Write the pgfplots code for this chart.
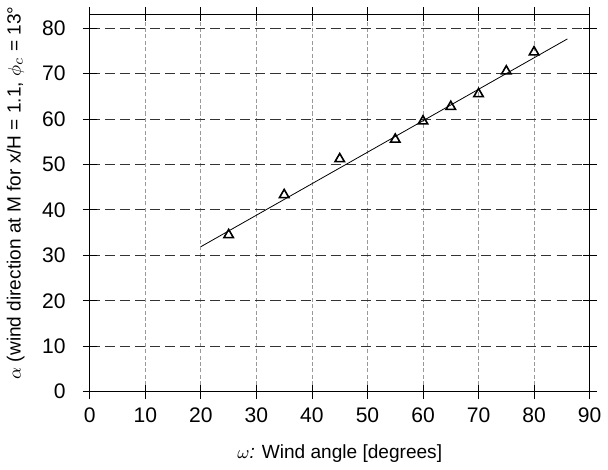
\documentclass[border=0pt]{standalone}
\usepackage{fontspec}
\setmainfont{Liberation Sans}
\usepackage{pgfplots}
\pgfplotsset{compat=1.18}

\begin{document}
\begin{tikzpicture}
\begin{axis}[
    width=249pt, height=188pt,
    scale only axis,
    xmin=0, xmax=90,
    ymin=0, ymax=83,
    xtick={0,10,...,90},
    ytick={0,10,...,80},
    tick align=center,
    major tick length=7pt,
    tick style={black, thin},
    axis line style={black, thin},
    xmajorgrids, ymajorgrids,
    x grid style={gray!80, dash pattern=on 2pt off 1.2pt},
    y grid style={black!80, dash pattern=on 5pt off 2.5pt},
    /pgf/number format/assume math mode=true,
    tick label style={font=\fontsize{10.5}{12}\selectfont},
    yticklabel style={xshift=-5pt},
    xticklabel style={yshift=-1pt},
    label style={font=\fontsize{9.5}{11}\selectfont},
    xlabel={$\omega$\textit{:} Wind angle [degrees]},
    ylabel={$\alpha$ (wind direction at M for x/H = 1.1, $\phi_c$ = 13\textdegree},
    xlabel style={yshift=-4pt},
    ylabel style={yshift=2pt, xshift=5pt},
]
\addplot[only marks, mark=triangle, mark size=2.7pt, mark options={black, thick}]
coordinates {
(25,34.5) (35,43.3) (45,51.2) (55,55.5) (60,59.5)
(65,62.7) (70,65.5) (75,70.5) (80,74.7)
};
\addplot[black, thin] coordinates {(20,31.9) (86,77.6)};
\end{axis}
\end{tikzpicture}
\end{document}
